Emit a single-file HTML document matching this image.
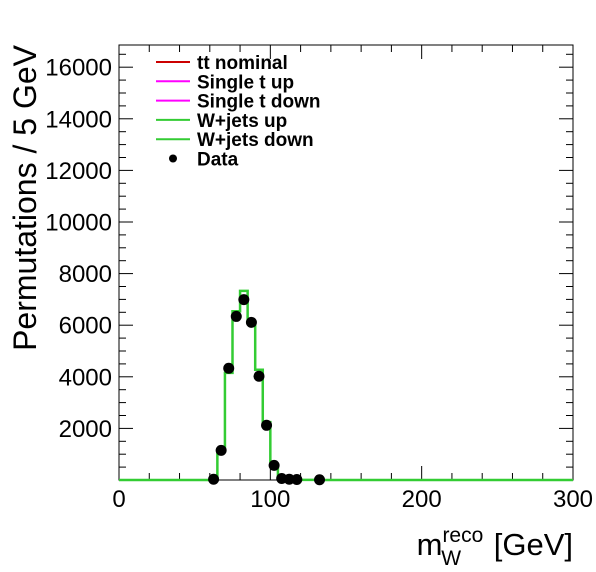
<!DOCTYPE html>
<html><head><meta charset="utf-8"><style>
body{margin:0;background:#fff;}
svg{display:block;font-family:"Liberation Sans",sans-serif;}
</style></head><body>
<svg id="c" width="596" height="572">
</svg>
<script>
const binEdgesLow=[60,65,70,75,80,85,90,95,100,105,110,115,120,125,130];
const mcValues=[0,1175,4150,6540,7330,6100,4275,2245,565,40,20,10,5,5,5];
const dataX=[62.5,67.5,72.5,77.5,82.5,87.5,92.5,97.5,102.5,107.5,112.5,117.5,132.5];
const dataY=[30,1150,4330,6340,6990,6110,4020,2120,565,60,30,20,10];
const xTicks=[0,100,200,300];
const yTicks=[2000,4000,6000,8000,10000,12000,14000,16000];
const legendLabels=["tt nominal","Single t up","Single t down","W+jets up","W+jets down","Data"];
const legendColors=["#cc0000","#ff00ff","#ff00ff","#33cc33","#33cc33","#000"];

const L=119,R=573,T=45,B=480,XMAX=300,YMAX=16860;
const sx=v=>L+v/XMAX*(R-L);
const sy=v=>B-v/YMAX*(B-T);
const svg=document.getElementById('c');
const NS="http://www.w3.org/2000/svg";
function mk(tag,attrs,parent){const e=document.createElementNS(NS,tag);for(const k in attrs)e.setAttribute(k,attrs[k]);(parent||svg).appendChild(e);return e;}

const fr=mk('rect',{x:L,y:T,width:R-L,height:B-T,fill:'none',stroke:'#000','stroke-width':1});



for(let v=0;v<=300;v+=20){
  const big=v%100===0, len=big?14:7;
  mk('line',{x1:sx(v),x2:sx(v),y1:B,y2:B-len,stroke:'#000'});
  mk('line',{x1:sx(v),x2:sx(v),y1:T,y2:T+len,stroke:'#000'});
}
xTicks.forEach(v=>{
  const t=mk('text',{x:sx(v),y:507,'font-size':24,'text-anchor':'middle'});
  t.textContent=v;
  
  
});
for(let v=500;v<=16500;v+=500){
  const big=v%2000===0, len=big?14:7;
  mk('line',{x1:L,x2:L+len,y1:sy(v),y2:sy(v),stroke:'#000'});
  mk('line',{x1:R,x2:R-len,y1:sy(v),y2:sy(v),stroke:'#000'});
}
yTicks.forEach(v=>{
  const t=mk('text',{x:112,y:sy(v)+8.5,'font-size':24,'text-anchor':'end'});
  t.textContent=v;
  
  
});

let d=`M${L},${sy(0)}`;
binEdgesLow.forEach((lo,i)=>{
  d+=` L${sx(lo)},${sy(mcValues[i])} L${sx(lo+5)},${sy(mcValues[i])}`;
});
d+=` L${sx(binEdgesLow[binEdgesLow.length-1]+5)},${sy(0)} L${R},${sy(0)}`;
const h=mk('path',{d:d,fill:'none',stroke:'#33cc33','stroke-width':2.5});



dataX.forEach((x,i)=>{
  const c=mk('circle',{cx:sx(x),cy:sy(dataY[i]),r:5.5,fill:'#000'});
  
  
});

legendLabels.forEach((lab,i)=>{
  const y=62+i*19.3;
  if(i<5){
    const ln=mk('line',{x1:156,x2:190,y1:y,y2:y,stroke:legendColors[i],'stroke-width':2});
    
    
  } else {
    const c=mk('circle',{cx:173,cy:y,r:4,fill:'#000'});
    
    
  }
  const t=mk('text',{x:197,y:y+7,'font-size':19,'font-weight':'bold'});
  t.textContent=lab;
  
  
});

const yt=mk('text',{x:0,y:0,'font-size':32,'text-anchor':'end',transform:'translate(36,45) rotate(-90)'});
yt.textContent="Permutations / 5 GeV";


const xt=mk('text',{x:573,y:555,'font-size':31,'text-anchor':'end'});
xt.innerHTML='m<tspan font-size="21" dy="-13">reco</tspan><tspan font-size="21" dx="-42" dy="23">W</tspan><tspan dx="24" dy="-10"> [GeV]</tspan>';


</script>
</body></html>
